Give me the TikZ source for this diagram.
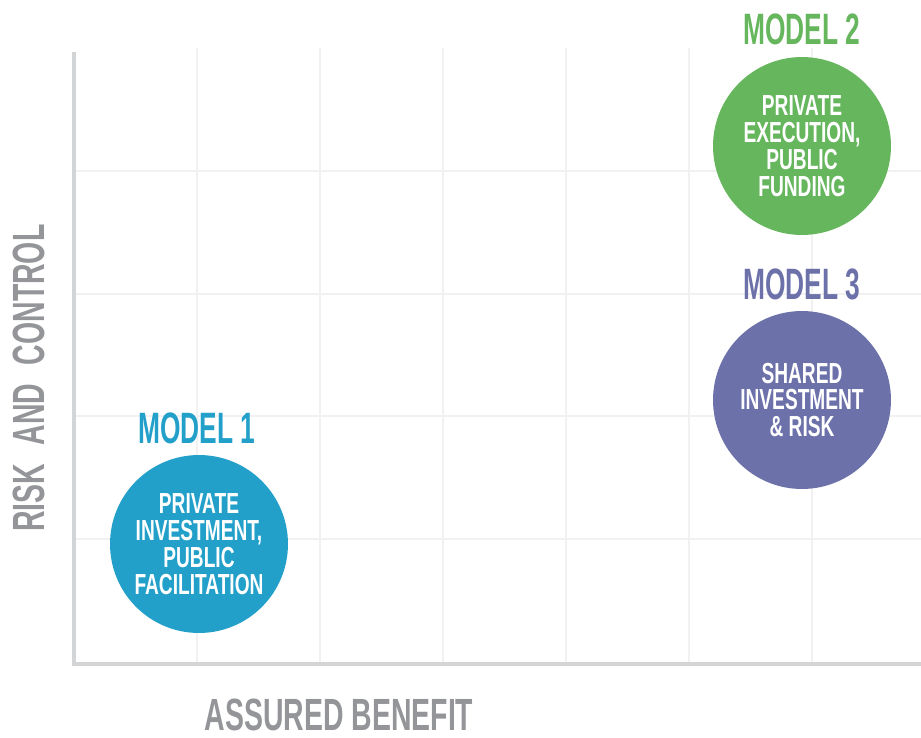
\documentclass[tikz,border=0pt]{standalone}
\usepackage{fontspec}
\setmainfont{Liberation Sans}
\newfontfamily\condfont[FakeStretch=0.66]{Liberation Sans}
\newfontfamily\titlefont[FakeStretch=0.6]{Liberation Sans}
\newfontfamily\axisfont[FakeStretch=0.63]{Liberation Sans}
\usetikzlibrary{positioning}

\definecolor{gridgray}{HTML}{F1F1F2}
\definecolor{axisgray}{HTML}{D3D4D6}
\definecolor{labelgray}{HTML}{939598}
\definecolor{modelblue}{HTML}{22A0C9}
\definecolor{modelgreen}{HTML}{66B65D}
\definecolor{modelpurple}{HTML}{6C71AA}

\begin{document}
\begin{tikzpicture}
[
    x=0.02cm, y=-0.02cm,
    model/.style={circle, minimum size=3.56cm, inner sep=0pt, text=white, align=center,
        font=\condfont\bfseries\fontsize{16.5}{15.3}\selectfont},
    title/.style={font=\titlefont\bfseries\fontsize{25}{26}\selectfont, inner sep=0pt},
    axislabel/.style={text=labelgray, inner sep=0pt, font=\axisfont\bfseries\fontsize{25.7}{27}\selectfont},
]
\useasboundingbox (0,0) rectangle (921,738);

% grid
\foreach \gx in {197,320,443,566,689,812}
    \draw [gridgray, line width=0.7pt] (\gx,48) -- (\gx,663);
\foreach \gy in {171,294,416,539}
    \draw [gridgray, line width=0.7pt] (74,\gy) -- (921,\gy);

% axes
\coordinate (top) at (74,52);
\coordinate (origin) at (74,664);
\coordinate (right) at (921,664);
\draw [axisgray, line width=2.3pt] (top) -- (origin) -- (right);

\node [axislabel] (xlabel) at (339,715) {ASSURED BENEFIT};
\node [axislabel, rotate=90] (ylabel) at (29,378)
{RISK\hspace{6pt} AND\hspace{6pt} CONTROL};

% models
\node [model, fill=modelblue] (m1) at (199,544)
{PRIVATE\\INVESTMENT,\\PUBLIC\\FACILITATION};
\node [title, text=modelblue] (t1) at (197,428) {MODEL 1};

\node [model, fill=modelgreen] (m2) at (802,146)
{PRIVATE\\EXECUTION,\\PUBLIC\\FUNDING};
\node [title, text=modelgreen] (t2) at (802,29) {MODEL 2};

\node [model, fill=modelpurple] (m3) at (802,400)
{SHARED\\INVESTMENT\\\& RISK};
\node [title, text=modelpurple] (t3) at (802,284) {MODEL 3};
\end{tikzpicture}
\end{document}
